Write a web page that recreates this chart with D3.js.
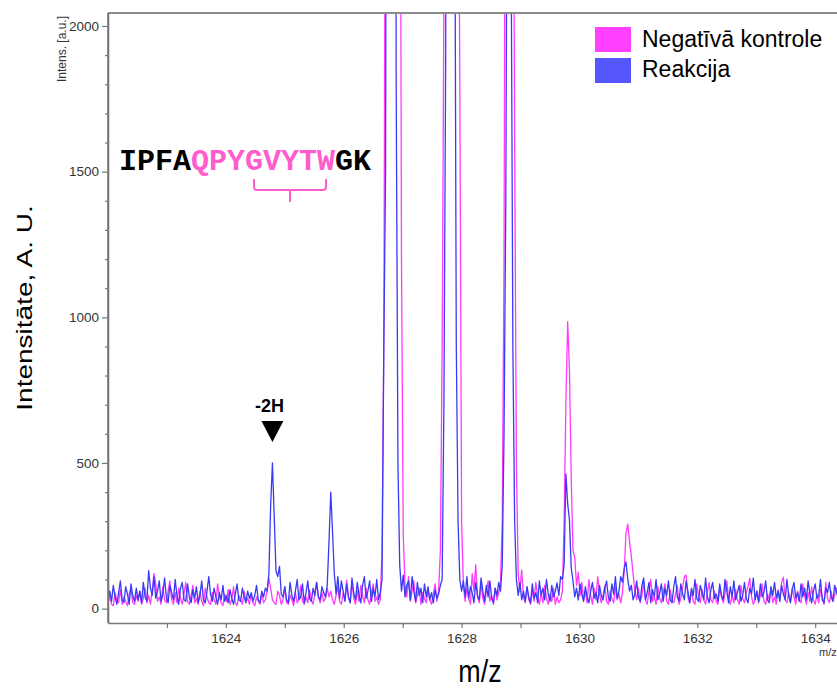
<!DOCTYPE html>
<html>
<head>
<meta charset="utf-8">
<script src="https://cdn.jsdelivr.net/npm/d3@7"></script>
<style>
  html, body { margin: 0; padding: 0; background: #fff; }
  svg { display: block; }
  text { font-family: "Liberation Sans", Arial, Helvetica, sans-serif; }
</style>
</head>
<body>
<svg id="chart" width="837" height="689"></svg>
<script>
// Spectrum sampling grid (m/z)
const mzStart = 1622.0;
const mzStep = 0.03;

// Negatīvā kontrole – intensities on the sampling grid
const negativeControl = [
  20, 45, 15, 10, 55, 30, 20, 65, 15, 40, 25, 10, 50, 70, 20, 15, 45, 25, 60, 15,
  35, 70, 20, 45, 15, 60, 120, 85, 25, 40, 15, 75, 30, 20, 60, 95, 30, 15, 55, 20,
  70, 35, 15, 50, 90, 25, 15, 45, 80, 20, 35, 15, 60, 25, 10, 70, 40, 20, 15, 55,
  30, 15, 85, 40, 20, 10, 50, 25, 65, 15, 30, 75, 20, 10, 45, 30, 15, 60, 25, 35,
  15, 50, 20, 10, 40, 25, 15, 55, 20, 30, 60, 105, 70, 30, 20, 15, 60, 45, 15, 30,
  75, 20, 15, 45, 30, 10, 55, 20, 35, 80, 25, 15, 40, 20, 65, 30, 15, 50, 90, 40,
  20, 55, 25, 35, 70, 40, 60, 30, 15, 45, 75, 25, 15, 55, 30, 98, 40, 20, 92, 35,
  15, 60, 25, 80, 45, 20, 70, 30, 15, 55, 85, 25, 40, 15, 30, 200, 900, 3000, 7000, 12000,
  15000, 16000, 13000, 8000, 5500, 3500, 1200, 250, 80, 40, 110, 25, 60, 95, 20, 45, 70, 15, 55, 35,
  20, 65, 30, 15, 50, 85, 25, 60, 200, 900, 2100, 7000, 13000, 16000, 16000, 13000, 9000, 5000, 3000, 1800,
  300, 80, 25, 70, 35, 15, 120, 60, 150, 40, 20, 85, 35, 15, 60, 95, 25, 45, 15, 70,
  30, 55, 90, 300, 1200, 3500, 8000, 9000, 6000, 3200, 1600, 500, 120, 60, 133, 40, 20, 75, 30, 15,
  65, 25, 90, 40, 15, 55, 20, 80, 35, 15, 50, 25, 70, 15, 40, 20, 30, 60, 300, 710,
  985, 820, 450, 200, 175, 80, 125, 45, 90, 30, 60, 20, 100, 45, 15, 70, 30, 110, 50, 20,
  45, 80, 25, 15, 60, 35, 20, 75, 30, 50, 20, 55, 130, 260, 290, 230, 180, 120, 60, 30,
  70, 20, 45, 90, 30, 15, 60, 100, 25, 40, 15, 75, 35, 20, 55, 85, 25, 15, 65, 30,
  20, 50, 80, 15, 35, 70, 110, 115, 40, 20, 60, 25, 15, 85, 45, 20, 65, 30, 15, 55,
  90, 30, 20, 60, 25, 15, 70, 40, 20, 55, 95, 35, 15, 45, 20, 65, 30, 15, 80, 35,
  20, 55, 75, 105, 40, 15, 30, 60, 20, 45, 85, 25, 15, 50, 30, 70, 20, 40, 15, 65,
  35, 90, 108, 30, 20, 55, 25, 70, 40, 15, 60, 30, 20, 85, 45, 15, 55, 25, 75, 30,
  15, 50, 20, 65, 40, 15, 90, 35, 20, 60, 25, 45, 70, 30
];

// Reakcija – intensities on the sampling grid
const reaction = [
  35, 60, 25, 80, 40, 15, 55, 95, 30, 20, 75, 50, 15, 85, 45, 25, 70, 30, 60, 20,
  90, 40, 25, 130, 70, 45, 110, 35, 60, 95, 25, 50, 105, 40, 20, 80, 55, 30, 100, 45,
  15, 70, 90, 30, 25, 85, 40, 20, 65, 35, 75, 20, 45, 95, 30, 20, 60, 110, 50, 25,
  70, 40, 15, 55, 30, 80, 25, 45, 20, 65, 35, 15, 50, 85, 30, 25, 70, 40, 20, 60,
  35, 55, 25, 45, 80, 30, 20, 60, 40, 70, 60, 120, 355, 500, 320, 130, 110, 145, 50, 40,
  75, 30, 20, 90, 45, 25, 60, 100, 30, 40, 85, 20, 55, 95, 35, 25, 70, 45, 90, 40,
  30, 75, 55, 40, 80, 230, 400, 265, 120, 50, 110, 35, 95, 60, 25, 85, 40, 20, 105, 55,
  30, 90, 45, 20, 80, 110, 35, 60, 95, 25, 70, 40, 100, 30, 55, 100, 900, 1500, 5000, 10000,
  12000, 11000, 6000, 1800, 500, 150, 60, 115, 40, 80, 95, 30, 110, 60, 25, 90, 45, 70, 20, 85,
  40, 75, 30, 55, 20, 65, 35, 50, 80, 100, 700, 1900, 6000, 14000, 14000, 9000, 2800, 900, 300, 100,
  60, 95, 40, 110, 35, 75, 55, 20, 90, 45, 30, 105, 60, 25, 80, 40, 95, 35, 20, 70,
  45, 90, 60, 150, 600, 1400, 3000, 6000, 2300, 900, 300, 100, 45, 90, 30, 60, 25, 75, 40, 20,
  85, 35, 55, 20, 95, 45, 70, 30, 100, 50, 25, 80, 40, 60, 88, 45, 110, 100, 150, 462,
  360, 305, 140, 95, 40, 70, 30, 85, 50, 25, 75, 40, 20, 60, 90, 35, 55, 20, 80, 45,
  30, 70, 95, 40, 25, 85, 50, 110, 35, 60, 110, 90, 140, 160, 100, 60, 80, 30, 50, 95,
  40, 25, 80, 105, 30, 55, 90, 20, 65, 40, 100, 30, 50, 85, 25, 70, 45, 95, 30, 20,
  75, 110, 40, 25, 85, 50, 30, 95, 60, 20, 70, 45, 100, 35, 25, 80, 55, 30, 105, 40,
  20, 65, 90, 35, 50, 25, 85, 45, 30, 100, 60, 20, 75, 40, 95, 30, 55, 80, 25, 45,
  90, 35, 20, 70, 50, 105, 30, 60, 25, 85, 40, 55, 95, 30, 20, 75, 45, 90, 35, 60,
  25, 80, 50, 30, 100, 45, 20, 65, 90, 35, 55, 25, 85, 40, 70, 30, 95, 50, 20, 60,
  85, 35, 45, 100, 30, 20, 70, 55, 90, 40, 25, 80, 60, 35
];

// Axis ticks
const xMajorTicks = [1624, 1626, 1628, 1630, 1632, 1634];
const xMinorTicks = [1623, 1625, 1627, 1629, 1631, 1633];
const yMajorTicks = [0, 500, 1000, 1500, 2000];
const yMinorTicks = [100, 200, 300, 400, 600, 700, 800, 900, 1100, 1200, 1300, 1400, 1600, 1700, 1800, 1900];

// Legend and annotations
const seriesNames = ["Negatīvā kontrole", "Reakcija"];
const seriesColors = ["#ff3cfb", "#3a3af6"];
const legendColors = ["#ff40ff", "#5656ff"];
const peptideParts = [
  { text: "IPFA", color: "#000000" },
  { text: "QPYGVYTW", color: "#ff5ccd" },
  { text: "GK", color: "#000000" }
];
const bracketFrom = 7;   // G
const bracketTo = 11;    // W
const markerMz = 1624.79;
const markerLabel = "-2H";

const svg = d3.select("#chart");
const plot = { left: 108, right: 837, top: 13, bottom: 623 };

const x = d3.scaleLinear().domain([1622.0, 1634.37]).range([plot.left, plot.right]);
const y = d3.scaleLinear().domain([-49.4, 2044.6]).range([plot.bottom, plot.top]);
const fmt = d3.format("d");

svg.append("defs").append("clipPath").attr("id", "plotClip")
  .append("rect")
  .attr("x", plot.left).attr("y", plot.top)
  .attr("width", plot.right - plot.left).attr("height", plot.bottom - plot.top);

// Spectra
const line = d3.line()
  .x((d, i) => x(mzStart + i * mzStep))
  .y(d => y(d));

const traces = svg.append("g").attr("clip-path", "url(#plotClip)");
[negativeControl, reaction].forEach((series, k) => {
  traces.append("path")
    .datum(series)
    .attr("fill", "none")
    .attr("stroke", seriesColors[k])
    .attr("stroke-width", 1.3)
    .attr("stroke-linejoin", "round")
    .attr("d", line);
});

// Frame top line
svg.append("line")
  .attr("x1", plot.left).attr("x2", plot.right)
  .attr("y1", plot.top).attr("y2", plot.top)
  .attr("stroke", "#8a8a8a").attr("stroke-width", 2);

// Y axis
svg.append("g")
  .attr("transform", `translate(${plot.left},0)`)
  .call(d3.axisLeft(y).tickValues(yMajorTicks).tickFormat(fmt).tickSize(6).tickSizeOuter(0).tickPadding(3));
svg.append("g")
  .attr("transform", `translate(${plot.left},0)`)
  .call(d3.axisLeft(y).tickValues(yMinorTicks).tickSize(3).tickSizeOuter(0).tickFormat(""))
  .select(".domain").remove();

// X axis
svg.append("g")
  .attr("transform", `translate(0,${plot.bottom})`)
  .call(d3.axisBottom(x).tickValues(xMajorTicks).tickFormat(fmt).tickSize(5).tickSizeOuter(0).tickPadding(5));
svg.append("g")
  .attr("transform", `translate(0,${plot.bottom})`)
  .call(d3.axisBottom(x).tickValues(xMinorTicks).tickSize(5).tickSizeOuter(0).tickFormat(""))
  .select(".domain").remove();

svg.selectAll(".domain").attr("stroke", "#777").attr("stroke-width", 1.6);
svg.selectAll(".tick line").attr("stroke", "#777").attr("stroke-width", 1.2);
svg.selectAll(".tick text")
  .attr("fill", "#333")
  .style("font-size", "13.5px")
  .style("font-family", "'Liberation Sans', Arial, sans-serif");

// Y domain line reaching top of frame
svg.append("line")
  .attr("x1", plot.left).attr("x2", plot.left)
  .attr("y1", plot.top).attr("y2", plot.bottom)
  .attr("stroke", "#777").attr("stroke-width", 1.6);

// Small axis captions
svg.append("text")
  .attr("transform", "translate(66,49) rotate(-90)")
  .attr("text-anchor", "middle")
  .attr("fill", "#333")
  .style("font-size", "12px")
  .text("Intens. [a.u.]");
svg.append("text")
  .attr("x", 819).attr("y", 656)
  .attr("fill", "#333")
  .style("font-size", "11px")
  .text("m/z");

// Main axis titles
svg.append("text")
  .attr("transform", "translate(32,308) scale(0.8,1) rotate(-90)")
  .attr("text-anchor", "middle")
  .attr("fill", "#000")
  .style("font-size", "28px")
  .text("Intensitāte, A. U.");
svg.append("text")
  .attr("transform", "translate(480,682) scale(0.84,1)")
  .attr("text-anchor", "middle")
  .attr("fill", "#000")
  .style("font-size", "32px")
  .text("m/z");

// Legend
const legend = svg.append("g");
seriesNames.forEach((name, k) => {
  legend.append("rect")
    .attr("x", 595).attr("y", 27 + k * 31)
    .attr("width", 36).attr("height", 25)
    .attr("fill", legendColors[k]);
  legend.append("text")
    .attr("x", 642).attr("y", 47 + k * 30)
    .attr("fill", "#000")
    .style("font-size", "23px")
    .text(name);
});

// Peptide sequence
const pepFont = 30, pepX = 119, pepY = 169.5;
const charW = pepFont * 0.6;
const pep = svg.append("text")
  .attr("x", pepX).attr("y", pepY)
  .style("font-family", "'Liberation Mono', 'Courier New', monospace")
  .style("font-weight", "bold")
  .style("font-size", pepFont + "px");
peptideParts.forEach(p => {
  pep.append("tspan").attr("fill", p.color).text(p.text);
});
const bx0 = pepX + (bracketFrom + 0.5) * charW;
const bx1 = pepX + (bracketTo + 0.5) * charW;
const bmid = (bx0 + bx1) / 2;
svg.append("path")
  .attr("d", `M${bx0},179 V187 Q${bx0},190 ${bx0 + 3},190 H${bx1 - 3} Q${bx1},190 ${bx1},187 V179 M${bmid},190 V202`)
  .attr("fill", "none")
  .attr("stroke", "#ff5ccd")
  .attr("stroke-width", 2);

// -2H marker
const mx = x(markerMz);
svg.append("text")
  .attr("x", mx - 3).attr("y", 411.5)
  .attr("text-anchor", "middle")
  .attr("fill", "#000")
  .style("font-size", "18px")
  .style("font-weight", "bold")
  .text(markerLabel);
svg.append("path")
  .attr("d", `M${mx - 11},421 L${mx + 11},421 L${mx},442 Z`)
  .attr("fill", "#000");
</script>
</body>
</html>
